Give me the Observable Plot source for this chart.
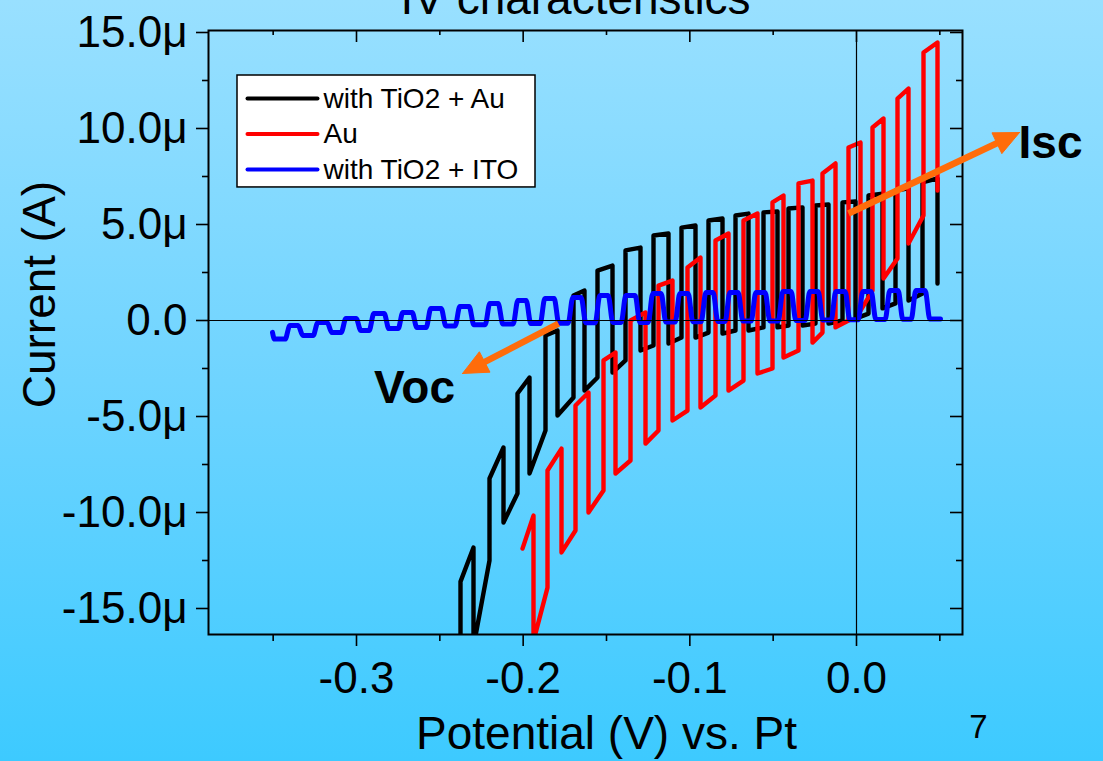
<!DOCTYPE html>
<html><head><meta charset="utf-8">
<script src="https://cdn.jsdelivr.net/npm/d3@7"></script>
<script src="https://cdn.jsdelivr.net/npm/@observablehq/plot@0.6"></script>
<style>
html,body{margin:0;padding:0;width:1103px;height:761px;overflow:hidden;}
body{background:linear-gradient(to bottom,#99e0ff 0%,#6fd4ff 50%,#3dcaff 100%);font-family:"Liberation Sans",Arial,sans-serif;}
#chart{position:absolute;left:0;top:0;}
</style></head><body><div id="chart"></div>
<script>
// ---------------- DATA (potential in V vs. Pt, current in µA) ----------------
// with TiO2 + Au (black): chopped-light sweep, starts in the dark
const blackStartV = -0.2400;
const blackOnV  = [-0.2376,-0.2202,-0.2034,-0.1866,-0.1698,-0.1554,-0.1386,-0.1218,-0.1050,-0.0888,-0.0726,-0.0558,-0.0408,-0.0246,-0.0084,0.0072,0.0234,0.0396];
const blackOffV = [-0.2298,-0.2118,-0.1962,-0.1794,-0.1632,-0.1464,-0.1296,-0.1128,-0.0966,-0.0804,-0.0648,-0.0474,-0.0324,-0.0168,-0.0006,0.0156,0.0312,0.0486];
const blackLightStart = [-13.6,-8.23,-3.80,-0.78,1.30,2.60,3.65,4.43,4.84,5.21,5.47,5.63,5.83,5.99,6.15,6.51,6.77,7.19];
const blackLightEnd   = [-11.82,-6.61,-2.97,-0.52,1.56,2.86,3.80,4.53,4.95,5.31,5.57,5.68,5.89,6.04,6.20,6.61,6.88,7.40];
const blackDarkStart  = [-17.0,-17.0,-10.52,-7.97,-4.95,-3.65,-2.71,-1.56,-1.20,-0.89,-0.68,-0.52,-0.36,-0.26,-0.16,0.10,0.63,1.04];
const blackDarkEnd    = [-16.8,-12.50,-9.01,-5.73,-4.01,-2.97,-2.08,-1.30,-0.89,-0.63,-0.52,-0.36,-0.26,-0.16,0.00,0.36,0.89,1.41];
const blackEndI = 1.93;

// Au (red): starts in the light
const redStartV = -0.2004;
const redOffV = [-0.1938,-0.1770,-0.1608,-0.1446,-0.1266,-0.1104,-0.0936,-0.0768,-0.0594,-0.0438,-0.0264,-0.0126,0.0024,0.0162,0.0312,0.0486];
const redOnV  = [-0.1854,-0.1686,-0.1518,-0.1356,-0.1188,-0.1014,-0.0846,-0.0678,-0.0504,-0.0348,-0.0204,-0.0048,0.0096,0.0246,0.0402];
const redLightStart = [-11.88,-7.81,-4.43,-2.08,0.00,1.82,2.76,4.17,5.21,6.15,7.14,7.66,9.01,10.05,11.56,13.96];
const redLightEnd   = [-10.16,-6.67,-3.75,-1.67,0.42,2.08,3.28,4.53,5.57,6.51,7.29,8.18,9.27,10.52,12.08,14.48];
const redDarkStart  = [-16.7,-12.08,-10.00,-7.97,-6.41,-5.21,-4.53,-3.65,-2.76,-1.93,-1.15,-0.36,0.52,2.19,4.01];
const redDarkEnd    = [-13.91,-10.94,-8.85,-7.29,-5.73,-4.69,-3.91,-3.13,-2.50,-1.56,-0.63,0.00,1.56,3.23,5.47];
const redEndI = 6.77;

// with TiO2 + ITO (blue)
const blueStartV = [-0.3504,-0.3492];
const blueStartI = [-0.62,-0.97];
const blueOnV  = [-0.3414,-0.3246,-0.3078,-0.2910,-0.2736,-0.2568,-0.2394,-0.2214,-0.2046,-0.1884,-0.1716,-0.1554,-0.1398,-0.1236,-0.1074,-0.0918,-0.0774,-0.0618,-0.0456,-0.0294,-0.0138,0.0024,0.0186,0.0342];
const blueOffV = [-0.3336,-0.3162,-0.2988,-0.2820,-0.2652,-0.2478,-0.2310,-0.2136,-0.1968,-0.1800,-0.1638,-0.1476,-0.1314,-0.1158,-0.0996,-0.0846,-0.0696,-0.0534,-0.0378,-0.0216,-0.0054,0.0102,0.0264,0.0426];
const blueLightI = [-0.26,-0.10,0.10,0.36,0.42,0.63,0.73,0.89,1.04,1.15,1.20,1.30,1.30,1.41,1.41,1.46,1.46,1.46,1.51,1.51,1.51,1.51,1.56,1.56];
const blueDarkI  = [-0.97,-0.78,-0.63,-0.52,-0.42,-0.36,-0.28,-0.22,-0.18,-0.16,-0.14,-0.12,-0.10,-0.10,-0.08,-0.06,-0.05,-0.03,-0.02,0.00,0.02,0.04,0.05,0.06,0.08];
const blueEndV = 0.0504;

// axes
const xMajorTicks = [-0.3,-0.2,-0.1,0.0];
const xMinorTicks = [-0.35,-0.25,-0.15,-0.05,0.05];
const yMajorTicks = [-15,-10,-5,0,5,10,15];
const yMinorTicks = [-12.5,-7.5,-2.5,2.5,7.5,12.5];
const seriesNames = ["with TiO2 + Au","Au","with TiO2 + ITO"];
const seriesColors = ["#000000","#ff0000","#0000ff"];

// annotations [V, µA]
const vocTail = [-0.1788,-0.16], vocTip = [-0.2364,-2.76], vocLabel = [-0.2652,-3.54];
const iscTail = [-0.0048,5.57],  iscTip = [0.0978,9.79],  iscLabel = [0.1164,9.22];

// ---------------- LAYOUT ----------------
const W = 1103, H = 761, mL = 208, mR = 141, mT = 30, mB = 127;
const xDomain = [-0.3888, 0.0636], yDomain = [-16.354, 15.104];
const kx = (W - mL - mR) / (xDomain[1] - xDomain[0]);
const ky = (H - mT - mB) / (yDomain[1] - yDomain[0]);
const orange = "#ff6c0a";
const font = "'Liberation Sans', Arial, Helvetica, sans-serif";

// ---------------- BUILD SERIES ----------------
const black = [{V: blackStartV, I: blackDarkStart[0]}];
for (let i = 0; i < blackOnV.length; i++) {
  black.push({V: blackOnV[i], I: blackDarkEnd[i]}, {V: blackOnV[i], I: blackLightStart[i]}, {V: blackOffV[i], I: blackLightEnd[i]});
  if (i < blackOnV.length - 1) black.push({V: blackOffV[i], I: blackDarkStart[i + 1]});
}
black.push({V: blackOffV[blackOffV.length - 1], I: blackEndI});

const red = [{V: redStartV, I: redLightStart[0]}, {V: redOffV[0], I: redLightEnd[0]}];
for (let i = 0; i < redOnV.length; i++) {
  red.push({V: redOffV[i], I: redDarkStart[i]}, {V: redOnV[i], I: redDarkEnd[i]},
           {V: redOnV[i], I: redLightStart[i + 1]}, {V: redOffV[i + 1], I: redLightEnd[i + 1]});
}
red.push({V: redOffV[redOffV.length - 1], I: redEndI});

const e = 0.0014;
const blue = blueStartV.map((v, i) => ({V: v, I: blueStartI[i]}));
for (let i = 0; i < blueOnV.length; i++) {
  blue.push({V: blueOnV[i] - e, I: blueDarkI[i]}, {V: blueOnV[i] + e, I: blueLightI[i]},
            {V: blueOffV[i] - e, I: blueLightI[i]}, {V: blueOffV[i] + e, I: blueDarkI[i + 1]});
}
blue.push({V: blueEndV, I: blueDarkI[blueDarkI.length - 1]});

function arrowParts(tail, tip, L, Wd) {
  const dx = (tip[0] - tail[0]) * kx, dy = -(tip[1] - tail[1]) * ky;
  const len = Math.hypot(dx, dy), ux = dx / len, uy = dy / len, nx = -uy, ny = ux;
  const toData = (px, py) => ({V: tip[0] + px / kx, I: tip[1] - py / ky});
  const head = [toData(0, 0), toData(-ux * L + nx * Wd, -uy * L + ny * Wd), toData(-ux * L - nx * Wd, -uy * L - ny * Wd), toData(0, 0)];
  const end = toData(-ux * L * 0.7, -uy * L * 0.7);
  return {head, shaft: [{x1: tail[0], y1: tail[1], x2: end.V, y2: end.I}]};
}
const vocA = arrowParts(vocTail, vocTip, 25, 11.5);
const iscA = arrowParts(iscTail, iscTip, 25, 11.5);

const fmtX = v => v.toFixed(1);
const fmtY = v => v === 0 ? "0.0" : v.toFixed(1) + "μ";

// legend layout (data units of the chart)
const lgX1 = -0.3714, lgX2 = -0.1926, lgY1 = 12.76, lgY2 = 6.93;
const lgLineX1 = -0.3654, lgLineX2 = -0.3234, lgTextX = -0.3198;
const lgRowY = [11.56, 9.71, 7.86];

const tk = (px, k) => px / k;

const marks = [
  Plot.line(black, {x: "V", y: "I", stroke: seriesColors[0], strokeWidth: 4.4, strokeLinejoin: "round", strokeLinecap: "round", clip: true}),
  Plot.line(red, {x: "V", y: "I", stroke: seriesColors[1], strokeWidth: 4.4, strokeLinejoin: "round", strokeLinecap: "round", clip: true}),
  Plot.line(blue, {x: "V", y: "I", stroke: seriesColors[2], strokeWidth: 5, curve: "monotone-x", strokeLinejoin: "round", strokeLinecap: "round", clip: true}),
  Plot.ruleY([0], {stroke: "black", strokeWidth: 1.2}),
  Plot.ruleX([0], {stroke: "black", strokeWidth: 1.2}),
  Plot.frame({stroke: "black", strokeWidth: 2}),
  // left axis (outward)
  Plot.ruleY(yMajorTicks, {y: d => d, x1: xDomain[0] - tk(12, kx), x2: xDomain[0], stroke: "black", strokeWidth: 1.6}),
  Plot.ruleY(yMinorTicks, {y: d => d, x1: xDomain[0] - tk(6, kx), x2: xDomain[0], stroke: "black", strokeWidth: 1.6}),
  // right axis (inward)
  Plot.ruleY(yMajorTicks, {y: d => d, x1: xDomain[1] - tk(12, kx), x2: xDomain[1], stroke: "black", strokeWidth: 1.6}),
  Plot.ruleY(yMinorTicks, {y: d => d, x1: xDomain[1] - tk(6, kx), x2: xDomain[1], stroke: "black", strokeWidth: 1.6}),
  // bottom axis (outward)
  Plot.ruleX(xMajorTicks, {x: d => d, y1: yDomain[0] - tk(12, ky), y2: yDomain[0], stroke: "black", strokeWidth: 1.6}),
  Plot.ruleX(xMinorTicks, {x: d => d, y1: yDomain[0] - tk(7, ky), y2: yDomain[0], stroke: "black", strokeWidth: 1.6}),
  // top axis (inward)
  Plot.ruleX(xMajorTicks, {x: d => d, y1: yDomain[1] - tk(12, ky), y2: yDomain[1], stroke: "black", strokeWidth: 1.6}),
  Plot.ruleX(xMinorTicks, {x: d => d, y1: yDomain[1] - tk(5, ky), y2: yDomain[1], stroke: "black", strokeWidth: 1.6}),
  // tick labels
  Plot.text(yMajorTicks, {y: d => d, text: fmtY, frameAnchor: "left", dx: -21, textAnchor: "end", fontSize: 44, fill: "black"}),
  Plot.text(xMajorTicks, {x: d => d, text: fmtX, frameAnchor: "bottom", lineAnchor: "top", dy: 27, textAnchor: "middle", fontSize: 44, fill: "black"}),
  // axis titles
  Plot.text([0], {y: () => 1.35, text: () => "Current (A)", frameAnchor: "left", dx: -168, rotate: -90, textAnchor: "middle", lineAnchor: "middle", fontSize: 46, fill: "black"}),
  Plot.text([0], {x: () => -0.15, text: () => "Potential (V) vs. Pt", frameAnchor: "bottom", lineAnchor: "bottom", textAnchor: "middle", dy: 114, fontSize: 46, fill: "black"}),
  Plot.text([0], {x: () => -0.1686, text: () => "IV characteristics", frameAnchor: "top", lineAnchor: "bottom", textAnchor: "middle", dy: -17, fontSize: 46, fill: "black"}),
  Plot.text([0], {x: () => 0.0732, text: () => "7", frameAnchor: "bottom", lineAnchor: "bottom", textAnchor: "middle", dy: 103, fontSize: 33, fill: "black"}),
  // legend
  Plot.rect([0], {x1: () => lgX1, x2: () => lgX2, y1: () => lgY1, y2: () => lgY2, fill: "white", stroke: "black", strokeWidth: 1.5}),
  ...seriesNames.flatMap((name, i) => [
    Plot.link([0], {x1: () => lgLineX1, x2: () => lgLineX2, y1: () => lgRowY[i], y2: () => lgRowY[i], stroke: seriesColors[i], strokeWidth: 4, strokeLinecap: "round"}),
    Plot.text([0], {x: () => lgTextX, y: () => lgRowY[i], text: () => name, textAnchor: "start", fontSize: 28, fill: "black"})
  ]),
  // annotations
  Plot.link(vocA.shaft, {x1: "x1", y1: "y1", x2: "x2", y2: "y2", stroke: orange, strokeWidth: 6.5}),
  Plot.line(vocA.head, {x: "V", y: "I", fill: orange, stroke: orange, strokeWidth: 1}),
  Plot.link(iscA.shaft, {x1: "x1", y1: "y1", x2: "x2", y2: "y2", stroke: orange, strokeWidth: 6.5}),
  Plot.line(iscA.head, {x: "V", y: "I", fill: orange, stroke: orange, strokeWidth: 1}),
  Plot.text([0], {x: () => vocLabel[0], y: () => vocLabel[1], text: () => "Voc", fontSize: 46, fontWeight: "bold", fill: "black"}),
  Plot.text([0], {x: () => iscLabel[0], y: () => iscLabel[1], text: () => "Isc", fontSize: 46, fontWeight: "bold", fill: "black"})
];

const chart = Plot.plot({
  width: W, height: H,
  marginLeft: mL, marginRight: mR, marginTop: mT, marginBottom: mB,
  x: {domain: xDomain, axis: null},
  y: {domain: yDomain, axis: null},
  style: {background: "transparent", fontFamily: font, fontSize: "44px", color: "black", overflow: "visible"},
  marks
});
document.getElementById("chart").appendChild(chart);
</script></body></html>
